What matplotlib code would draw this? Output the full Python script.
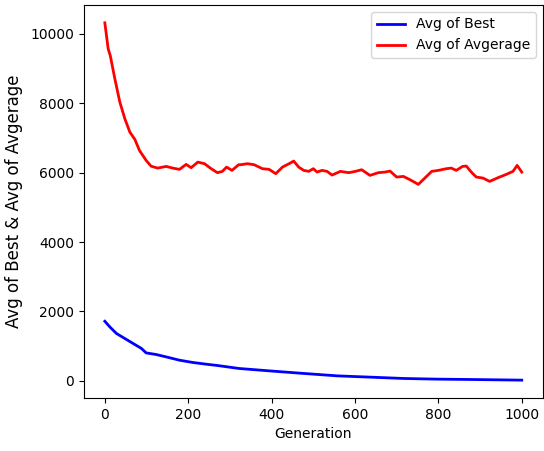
import matplotlib
matplotlib.use('Agg')
import matplotlib.pyplot as plt

# Values
gen_best = [0, 12, 28, 48, 68, 88, 99, 123, 147, 179, 211, 243, 270, 322,
            399, 478, 558, 637, 717, 796, 876, 1000]
avg_best = [1718, 1554, 1364, 1220, 1076, 932, 806, 760, 691, 596, 530, 481,
            443, 357, 284, 213, 144, 107, 69, 50, 40, 21]

gen_avg = [0, 8, 13, 24, 36, 48, 60, 72, 83, 99, 111, 127, 147, 163, 179,
           195, 207, 223, 239, 255, 270, 282, 292, 305, 321, 326, 342, 358,
           378, 394, 410, 426, 442, 453, 465, 477, 489, 500, 509, 521, 533,
           545, 565, 585, 601, 616, 636, 656, 672, 684, 700, 716, 732, 752,
           766, 784, 800, 819, 831, 843, 858, 867, 879, 891, 907, 923, 943,
           963, 979, 989, 1000]
avg_avg = [10317, 9568, 9375, 8705, 8031, 7553, 7168, 6958, 6641, 6353, 6185,
           6131, 6180, 6131, 6094, 6238, 6142, 6304, 6258, 6114, 5999, 6037,
           6160, 6065, 6229, 6229, 6258, 6229, 6114, 6094, 5970, 6160, 6258,
           6333, 6160, 6065, 6037, 6114, 6017, 6065, 6037, 5930, 6037, 5999,
           6037, 6084, 5921, 5999, 6016, 6046, 5873, 5892, 5796, 5662, 5825,
           6037, 6065, 6114, 6131, 6065, 6180, 6190, 6016, 5873, 5844, 5748,
           5854, 5950, 6037, 6209, 6016]

fig = plt.figure(figsize=(5.44, 4.51), dpi=100)
ax = fig.add_axes([0.1544, 0.1175, 0.843, 0.8715])
ax.plot(gen_best, avg_best, color='blue', linewidth=2, label='Avg of Best')
ax.plot(gen_avg, avg_avg, color='red', linewidth=2, label='Avg of Avgerage')
ax.set_xlabel('Generation')
# label in the reference is stretched, so a bigger size to match its length
ax.set_ylabel('Avg of Best & Avg of Avgerage', fontsize=12, labelpad=5)
ax.legend(loc='upper right')
fig.savefig('out.png', dpi=100)
